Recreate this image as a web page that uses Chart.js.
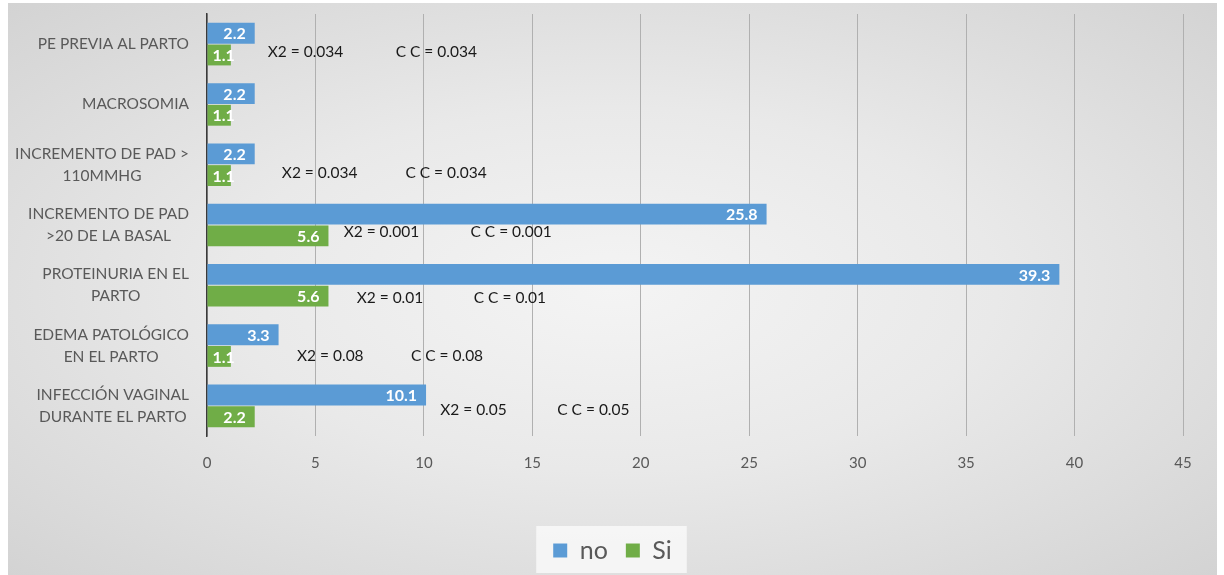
<!DOCTYPE html>
<html>
<head>
<meta charset="utf-8">
<script src="https://cdn.jsdelivr.net/npm/chart.js@4.4.1/dist/chart.umd.min.js"></script>
<style>
  html, body { margin: 0; padding: 0; background: #fff; }
  #wrap {
    position: absolute; left: 8px; top: 3px; width: 1209px; height: 572px;
    background: radial-gradient(ellipse at 50% 50%, #f4f4f4 0%, #e9e9e9 45%, #d3d3d3 100%);
  }
</style>
</head>
<body>
<div id="wrap"><canvas id="chartBar"></canvas></div>
<script>
var categorias = [
  'PE PREVIA AL PARTO',
  'MACROSOMIA',
  ['INCREMENTO DE PAD >', '110MMHG'],
  ['INCREMENTO DE PAD', '>20 DE LA BASAL'],
  ['PROTEINURIA EN EL', 'PARTO'],
  ['EDEMA PATOLÓGICO', 'EN EL PARTO'],
  ['INFECCIÓN VAGINAL', 'DURANTE EL PARTO']
];
var serieNo = [2.2, 2.2, 2.2, 25.8, 39.3, 3.3, 10.1];
var serieSi = [1.1, 1.1, 1.1, 5.6, 5.6, 1.1, 2.2];
var valoresX2 = ['0.034', null, '0.034', '0.001', '0.01', '0.08', '0.05'];
var valoresCC = ['0.034', null, '0.034', '0.001', '0.01', '0.08', '0.05'];

// where the X2 / C C notes sit (x in axis units, dy in px from the category centre)
var notaX2 = [2.8, null, 3.45, 6.3, 6.9, 4.15, 10.75];
var notaCC = [8.7, null, 9.15, 12.15, 12.3, 9.4, 16.15];
var notaDy = [8, 0, 8, 7, 13, 10, 4];

var fuente = 'Lato, "Open Sans", sans-serif';

// y labels: lines centred inside a right-aligned block (Excel style)
var etiquetasY = {
  id: 'etiquetasY',
  afterDraw: function(chart) {
    var ctx = chart.ctx, y = chart.scales.y;
    ctx.save();
    ctx.font = '15.5px ' + fuente;
    ctx.fillStyle = '#595959';
    ctx.textAlign = 'center';
    ctx.textBaseline = 'middle';
    categorias.forEach(function(cat, i) {
      var lineas = Array.isArray(cat) ? cat : [cat];
      var ancho = Math.max.apply(null, lineas.map(function(l) { return ctx.measureText(l).width; }));
      var cx = y.right - 18 - ancho / 2;
      var cy = y.getPixelForValue(i);
      lineas.forEach(function(l, j) {
        ctx.fillText(l, cx, cy + (j - (lineas.length - 1) / 2) * 22);
      });
    });
    ctx.restore();
  }
};

// value labels inside the bar end
var etiquetasValor = {
  id: 'etiquetasValor',
  afterDatasetsDraw: function(chart) {
    var ctx = chart.ctx;
    ctx.save();
    ctx.font = 'bold 16px ' + fuente;
    ctx.fillStyle = '#ffffff';
    ctx.textBaseline = 'middle';
    chart.data.datasets.forEach(function(ds, di) {
      chart.getDatasetMeta(di).data.forEach(function(bar, i) {
        var txt = ds.data[i].toFixed(1);
        var w = ctx.measureText(txt).width;
        if (bar.x - bar.base > w + 12) {
          ctx.textAlign = 'right';
          ctx.fillText(txt, bar.x - 9, bar.y + 1);
        } else {
          ctx.textAlign = 'left';
          ctx.fillText(txt, bar.base + 5, bar.y + 1);
        }
      });
    });
    ctx.restore();
  }
};

// X2 and C C notes
var notas = {
  id: 'notas',
  afterDatasetsDraw: function(chart) {
    var ctx = chart.ctx, x = chart.scales.x, y = chart.scales.y;
    ctx.save();
    ctx.font = '15.5px ' + fuente;
    ctx.fillStyle = '#1a1a1a';
    ctx.textAlign = 'left';
    ctx.textBaseline = 'middle';
    for (var i = 0; i < categorias.length; i++) {
      if (!valoresX2[i]) continue;
      var cy = y.getPixelForValue(i) + notaDy[i];
      ctx.fillText('X2 = ' + valoresX2[i], x.getPixelForValue(notaX2[i]), cy);
      ctx.fillText('C C = ' + valoresCC[i], x.getPixelForValue(notaCC[i]), cy);
    }
    ctx.restore();
  }
};

// legend centred on the whole picture, with a light box behind it
var cajaLeyenda = {
  id: 'cajaLeyenda',
  afterLayout: function(chart) {
    var lg = chart.legend;
    var dx = (chart.width / 2) - (lg.left + lg.right) / 2;
    lg.left += dx; lg.right += dx;
    if (lg.adjustHitBoxes) lg.adjustHitBoxes();
  },
  beforeDraw: function(chart) {
    var lg = chart.legend;
    if (!lg || !lg.lineWidths) return;
    var pad = lg.options.labels.padding;
    var w = lg.lineWidths[0] - pad;
    var cx = (lg.left + lg.right) / 2;
    var t = lg.top + pad - 12;
    chart.ctx.save();
    chart.ctx.fillStyle = 'rgba(247,247,247,0.9)';
    chart.ctx.fillRect(cx - w / 2 - 17, t, w + 32, 25 + 22);
    chart.ctx.restore();
  }
};

var ctxBar = document.getElementById('chartBar').getContext('2d');
new Chart(ctxBar, {
  type: 'bar',
  data: {
    labels: categorias,
    datasets: [
      { label: 'no', data: serieNo, backgroundColor: '#5b9bd5', categoryPercentage: 0.72, barPercentage: 0.96 },
      { label: 'Si', data: serieSi, backgroundColor: '#70ad47', categoryPercentage: 0.72, barPercentage: 0.96 }
    ]
  },
  options: {
    indexAxis: 'y',
    responsive: true,
    maintainAspectRatio: false,
    animation: false,
    layout: { padding: { top: 11, right: 34, left: 0, bottom: 2 } },
    scales: {
      x: {
        min: 0, max: 45,
        ticks: { stepSize: 5, color: '#595959', font: { family: fuente, size: 15 }, padding: 18 },
        grid: { color: '#b0b0b0', lineWidth: 1, drawTicks: false },
        border: { display: false },
        afterFit: function(s) { s.height = 84; }
      },
      y: {
        ticks: { display: false },
        grid: { display: false },
        border: { display: true, color: '#3a3a3a', width: 1.5 },
        afterFit: function(s) { s.width = 199; }
      }
    },
    plugins: {
      legend: {
        position: 'bottom',
        labels: {
          color: '#595959',
          font: { family: fuente, size: 25 },
          boxWidth: 14, boxHeight: 14,
          padding: 18
        }
      },
      tooltip: { enabled: false }
    }
  },
  plugins: [cajaLeyenda, etiquetasValor, notas, etiquetasY]
});
</script>
</body>
</html>
